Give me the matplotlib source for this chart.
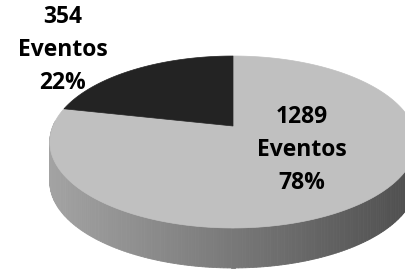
import numpy as np
import matplotlib
matplotlib.use("Agg")
import matplotlib.pyplot as plt
from matplotlib.patches import Polygon

# data
categorias = ["Eventos A", "Eventos B"]
eventos = [1289, 354]
porcentajes = ["78%", "22%"]
colores_top = ["#c0c0c0", "#232323"]

fig = plt.figure(figsize=(4.05, 2.7), dpi=100)
ax = fig.add_axes([0, 0, 1, 1])
ax.set_xlim(0, 405)
ax.set_ylim(270, 0)
ax.axis("off")

# geometry of the tilted pie (pixel units)
cx, cy = 233, 126
A, B, k = 180, 83, 0.186
grosor = 40


def proy(theta):
    s, c = np.sin(theta), np.cos(theta)
    d = 1 + k * s
    return cx + A * c / d, cy - B * s / d


# side face (front half), shaded from light on the left to dark on the right
th = np.linspace(np.pi * 0.98, np.pi * 2.02, 200)
for t0, t1 in zip(th[:-1], th[1:]):
    x0, y0 = proy(t0)
    x1, y1 = proy(t1)
    f = np.clip((0.5 * (x0 + x1) - 50) / 360, 0, 1)
    g = 0.64 - 0.33 * f
    ax.add_patch(Polygon([(x0, y0), (x1, y1), (x1, y1 + grosor), (x0, y0 + grosor)],
                         closed=True, facecolor=(g, g, g), edgecolor=(g, g, g), lw=0.6))

# top face: small slice starts at 12 o'clock, counter-clockwise
total = sum(eventos)
ang_pequeno = 2 * np.pi * eventos[1] / total
inicio = np.pi / 2
rangos = [(inicio + ang_pequeno, inicio + 2 * np.pi), (inicio, inicio + ang_pequeno)]
for (a0, a1), col in zip(rangos, colores_top):
    tt = np.linspace(a0, a1, 300)
    xs, ys = proy(tt)
    pts = [(cx, cy)] + list(zip(xs, ys))
    ax.add_patch(Polygon(pts, closed=True, facecolor=col, edgecolor=col, lw=0.5))

fuente = dict(family=["Open Sans", "DejaVu Sans"], weight="bold", fontsize=16.5,
              ha="center", va="center", color="black", linespacing=1.5)
ax.text(302, 150, f"{eventos[0]}\nEventos\n{porcentajes[0]}", **fuente)
ax.text(63, 50, f"{eventos[1]}\nEventos\n{porcentajes[1]}", **fuente)

fig.savefig("out.png", dpi=100)
